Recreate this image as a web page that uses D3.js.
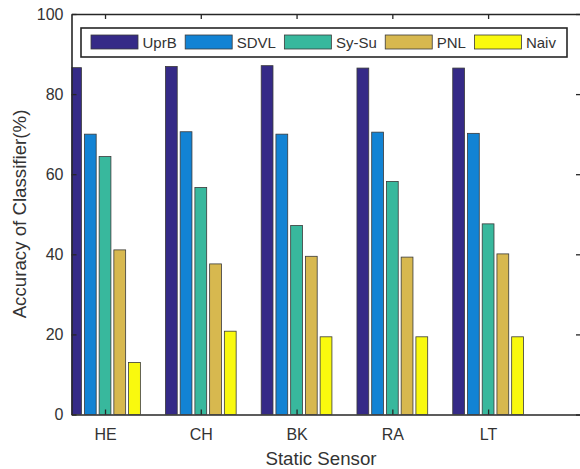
<!DOCTYPE html>
<html>
<head>
<meta charset="utf-8">
<script src="https://cdn.jsdelivr.net/npm/d3@7"></script>
<style>
  html, body { margin: 0; padding: 0; background: #fff; }
  svg { display: block; font-family: "Liberation Sans", Arial, Helvetica, sans-serif; }
</style>
</head>
<body>
<svg id="chart" width="580" height="469"></svg>
<script>
// ---- data ----
const categories = ["HE", "CH", "BK", "RA", "LT"];
const seriesNames = ["UprB", "SDVL", "Sy-Su", "PNL", "Naiv"];
const UprB  = [86.6, 86.9, 87.1, 86.5, 86.5];
const SDVL  = [70.0, 70.6, 70.0, 70.5, 70.2];
const SySu  = [64.4, 56.7, 47.2, 58.2, 47.6];
const PNL   = [41.1, 37.6, 39.5, 39.3, 40.1];
const Naiv  = [13.0, 20.8, 19.4, 19.4, 19.4];
const yTicks = [0, 20, 40, 60, 80, 100];
const colors = ["#352a87", "#1283d4", "#38b89d", "#d7b84f", "#f9f90e"];

const seriesValues = [UprB, SDVL, SySu, PNL, Naiv];

// ---- layout ----
const svg = d3.select("#chart");
const L = 71.5, R = 581, T = 14, B = 414.5;
const ink = "#262626";

const x = d3.scaleLinear().domain([0.65, 5.97]).range([L, R]);
const y = d3.scaleLinear().domain([0, 100]).range([B, T]);

// MATLAB grouped-bar geometry
const nS = seriesNames.length;
const groupW = Math.min(0.8, nS / (nS + 1.5));
const step = groupW / nS;
const barW = step * 0.8;

svg.append("defs").append("clipPath").attr("id", "plotclip")
  .append("rect").attr("x", L).attr("y", T).attr("width", R - L).attr("height", B - T);

const barsG = svg.append("g").attr("clip-path", "url(#plotclip)");
seriesValues.forEach((vals, s) => {
  const off = (s - (nS - 1) / 2) * step;
  barsG.selectAll(null).data(vals).enter().append("rect")
    .attr("x", (d, i) => x(i + 1 + off - barW / 2))
    .attr("width", (d, i) => x(i + 1 + off + barW / 2) - x(i + 1 + off - barW / 2))
    .attr("y", d => y(d))
    .attr("height", d => y(0) - y(d))
    .attr("fill", colors[s])
    .attr("stroke", "#3a3a3a")
    .attr("stroke-width", 0.8);
});

// ---- axes ----
function styleAxis(g) {
  g.selectAll("path.domain").attr("stroke", ink).attr("stroke-width", 1.6);
  g.selectAll(".tick line").attr("stroke", ink).attr("stroke-width", 1.3);
  g.selectAll(".tick text").attr("fill", "#333").style("font-size", "16px")
    .style("font-family", '"Liberation Sans", Arial, sans-serif');
}
const xIdx = categories.map((c, i) => i + 1);

svg.append("g").attr("transform", `translate(0,${B})`)
  .call(d3.axisBottom(x).tickValues(xIdx).tickFormat(d => categories[d - 1])
    .tickSizeInner(-5).tickSizeOuter(0).tickPadding(14))
  .call(styleAxis);
svg.append("g").attr("transform", `translate(0,${T})`)
  .call(d3.axisTop(x).tickValues(xIdx).tickFormat("")
    .tickSizeInner(-5).tickSizeOuter(0))
  .call(styleAxis);
svg.append("g").attr("transform", `translate(${L},0)`)
  .call(d3.axisLeft(y).tickValues(yTicks)
    .tickSizeInner(-5).tickSizeOuter(0).tickPadding(8))
  .call(styleAxis);
svg.append("g").attr("transform", `translate(${R},0)`)
  .call(d3.axisRight(y).tickValues(yTicks).tickFormat("")
    .tickSizeInner(-5).tickSizeOuter(0))
  .call(styleAxis);

// ---- axis titles ----
svg.append("text").attr("x", 321).attr("y", 465)
  .attr("text-anchor", "middle").attr("fill", "#333")
  .style("font-size", "18.7px").text("Static Sensor");
svg.append("text").attr("transform", `translate(26,214) rotate(-90)`)
  .attr("text-anchor", "middle").attr("fill", "#333")
  .style("font-size", "18.7px").text("Accuracy of Classifier(%)");

// ---- legend ----
const leg = svg.append("g");
leg.append("rect").attr("x", 81).attr("y", 28).attr("width", 486).attr("height", 29)
  .attr("fill", "#fff").attr("stroke", ink).attr("stroke-width", 1.6);
let cx = 91;
seriesNames.forEach((name, s) => {
  leg.append("rect").attr("x", cx).attr("y", 35).attr("width", 47).attr("height", 14)
    .attr("fill", colors[s]).attr("stroke", "#3a3a3a").attr("stroke-width", 0.8);
  const t = leg.append("text").attr("x", cx + 51.5).attr("y", 47.5)
    .attr("fill", "#333").style("font-size", "15px").text(name);
  cx = cx + 51.5 + t.node().getComputedTextLength() + 8.5;
});
</script>
</body>
</html>
